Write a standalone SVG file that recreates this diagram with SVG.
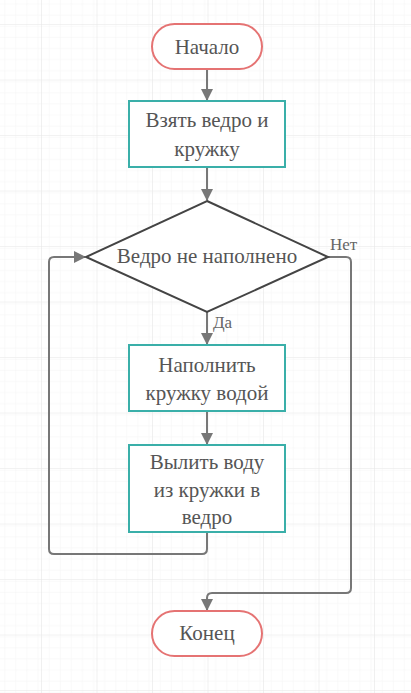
<svg xmlns="http://www.w3.org/2000/svg" width="411" height="693" viewBox="0 0 411 693">
<style>
.term{fill:#fff;stroke:#e57373;stroke-width:2}
.proc{fill:#fff;stroke:#3aafa9;stroke-width:2}
.dec{fill:#fff;stroke:#444;stroke-width:2}
.t{font-family:'Liberation Serif','DejaVu Serif',serif;font-size:21px;fill:#555;text-anchor:middle}
.lbl{font-family:'Liberation Serif','DejaVu Serif',serif;font-size:17px;fill:#666}
.c{fill:none;stroke:#777;stroke-width:2}
</style>
<defs>
<pattern id="minor" x="41" y="24" width="11.1" height="11.1" patternUnits="userSpaceOnUse">
<path d="M0 0H11.1M0 0V11.1" fill="none" stroke="#f4f4f4" stroke-width="1"/>
</pattern>
<pattern id="major" x="41" y="24" width="55.5" height="55.5" patternUnits="userSpaceOnUse">
<rect width="55.5" height="55.5" fill="url(#minor)"/>
<path d="M0 0H55.5M0 0V55.5" fill="none" stroke="#e6e6e6" stroke-width="1.2"/>
</pattern>
<marker id="ah" viewBox="0 0 12 12" refX="11" refY="6" markerWidth="12" markerHeight="12" markerUnits="userSpaceOnUse" orient="auto">
<path d="M0 0L12 6L0 12Z" fill="#777"/>
</marker>
</defs>
<rect width="411" height="693" fill="#fff"/>
<rect width="411" height="693" fill="url(#major)"/>
<g id="connectors">
<path class="c" d="M207 69V100" marker-end="url(#ah)"/>
<path class="c" d="M207 167V200" marker-end="url(#ah)"/>
<path class="c" d="M207 312V344" marker-end="url(#ah)"/>
<path class="c" d="M207 411V444" marker-end="url(#ah)"/>
<path class="c" d="M207 532V549Q207 554 202 554H54Q49 554 49 549V262Q49 257 54 257H85" marker-end="url(#ah)"/>
<path class="c" d="M328 257H346Q351 257 351 262V588Q351 593 346 593H212Q207 593 207 598V610" marker-end="url(#ah)"/>
<text class="lbl" x="330" y="250">Нет</text>
<text class="lbl" x="213" y="328">Да</text>
</g>
<g id="start">
<rect class="term" x="152" y="24" width="110" height="45" rx="22.5"/>
<text class="t" x="207" y="54">Начало</text>
</g>
<g id="take">
<rect class="proc" x="129" y="101" width="156" height="66"/>
<text class="t" x="207" y="127">Взять ведро и</text>
<text class="t" x="207" y="156">кружку</text>
</g>
<g id="check">
<path class="dec" d="M207 201L328 257L207 312L86 257Z"/>
<text class="t" x="207" y="263">Ведро не наполнено</text>
</g>
<g id="fill">
<rect class="proc" x="129" y="345" width="156" height="66"/>
<text class="t" x="207" y="372">Наполнить</text>
<text class="t" x="207" y="400">кружку водой</text>
</g>
<g id="pour">
<rect class="proc" x="129" y="445" width="156" height="87"/>
<text class="t" x="207" y="469">Вылить воду</text>
<text class="t" x="207" y="497">из кружки в</text>
<text class="t" x="207" y="524">ведро</text>
</g>
<g id="end">
<rect class="term" x="152" y="611" width="110" height="45" rx="22.5"/>
<text class="t" x="207" y="640">Конец</text>
</g>
</svg>
